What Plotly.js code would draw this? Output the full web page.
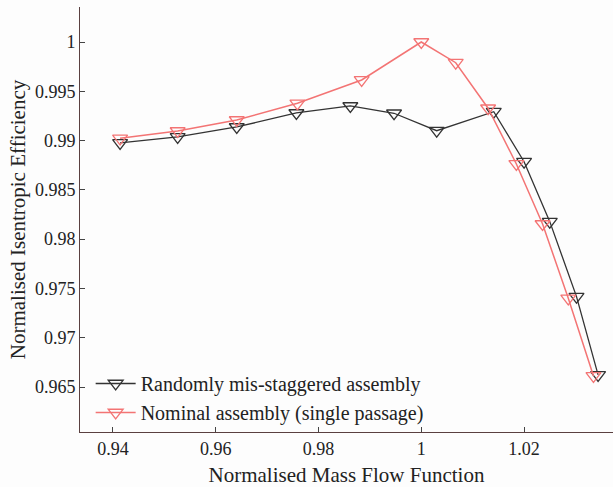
<!DOCTYPE html>
<html><head><meta charset="utf-8">
<script src="https://cdn.plot.ly/plotly-3.0.1.min.js"></script>
<style>body{margin:0;background:#fff}</style>
</head><body>
<div id="chart" style="width:613px;height:487px"></div>
<script>
const randomX = [0.9414, 0.9526, 0.9641, 0.9757, 0.9862, 0.9947, 1.0030, 1.0141, 1.0200, 1.0250, 1.0302, 1.0344];
const randomY = [0.98976, 0.99037, 0.99138, 0.99280, 0.99351, 0.99277, 0.99100, 0.99293, 0.98786, 0.98178, 0.97417, 0.96623];
const nominalX = [0.9414, 0.9526, 0.9641, 0.9759, 0.9884, 1.0000, 1.0067, 1.0130, 1.0185, 1.0236, 1.0286, 1.0335];
const nominalY = [0.99023, 0.99097, 0.99209, 0.99378, 0.99615, 1.0000, 0.99790, 0.99328, 0.98763, 0.98154, 0.97400, 0.96613];
const xTicks = [0.94, 0.96, 0.98, 1, 1.02];
const yTicks = [0.965, 0.97, 0.975, 0.98, 0.985, 0.99, 0.995, 1];

const serif = "Liberation Serif";
const traces = [
  {x: randomX, y: randomY, mode: 'lines+markers', name: 'Randomly mis-staggered assembly',
   line: {color: '#333333', width: 1.3},
   marker: {symbol: 'triangle-down-open', size: 13, color: '#333333', line: {width: 1.3}}},
  {x: nominalX, y: nominalY, mode: 'lines+markers', name: 'Nominal assembly (single passage)',
   line: {color: '#f37474', width: 1.5},
   marker: {symbol: 'triangle-down-open', size: 13, color: '#f37474', line: {width: 1.3}}}
];
const layout = {
  width: 613, height: 487,
  margin: {l: 80, r: 0, t: 7, b: 55},
  paper_bgcolor: '#fdfdfd', plot_bgcolor: '#fdfdfd',
  font: {family: serif, size: 18, color: '#222'},
  showlegend: true,
  legend: {x: 0.02, y: 0.0, xanchor: 'left', yanchor: 'bottom', bgcolor: 'rgba(0,0,0,0)',
           itemwidth: 40,
           font: {family: serif, size: 20, color: '#222'}, tracegroupgap: 0},
  xaxis: {range: [0.9336, 1.0373], tickvals: xTicks, ticktext: xTicks.map(String),
          ticks: 'inside', ticklen: 5, tickcolor: '#444', showgrid: false, zeroline: false,
          showline: true, linecolor: '#5a4040', linewidth: 1,
          tickfont: {family: serif, size: 18, color: '#222'},
          title: {text: 'Normalised Mass Flow Function', font: {family: serif, size: 21, color: '#222'}, standoff: 11}},
  yaxis: {range: [0.96044, 1.00355], tickvals: yTicks, ticktext: yTicks.map(String),
          ticks: 'inside', ticklen: 5, tickcolor: '#444', showgrid: false, zeroline: false,
          showline: true, linecolor: '#5a4040', linewidth: 1,
          tickfont: {family: serif, size: 18, color: '#222'},
          title: {text: 'Normalised Isentropic Efficiency', font: {family: serif, size: 21, color: '#222'}, standoff: 3}}
};
Plotly.newPlot('chart', traces, layout, {displayModeBar: false});
</script>
</body></html>
